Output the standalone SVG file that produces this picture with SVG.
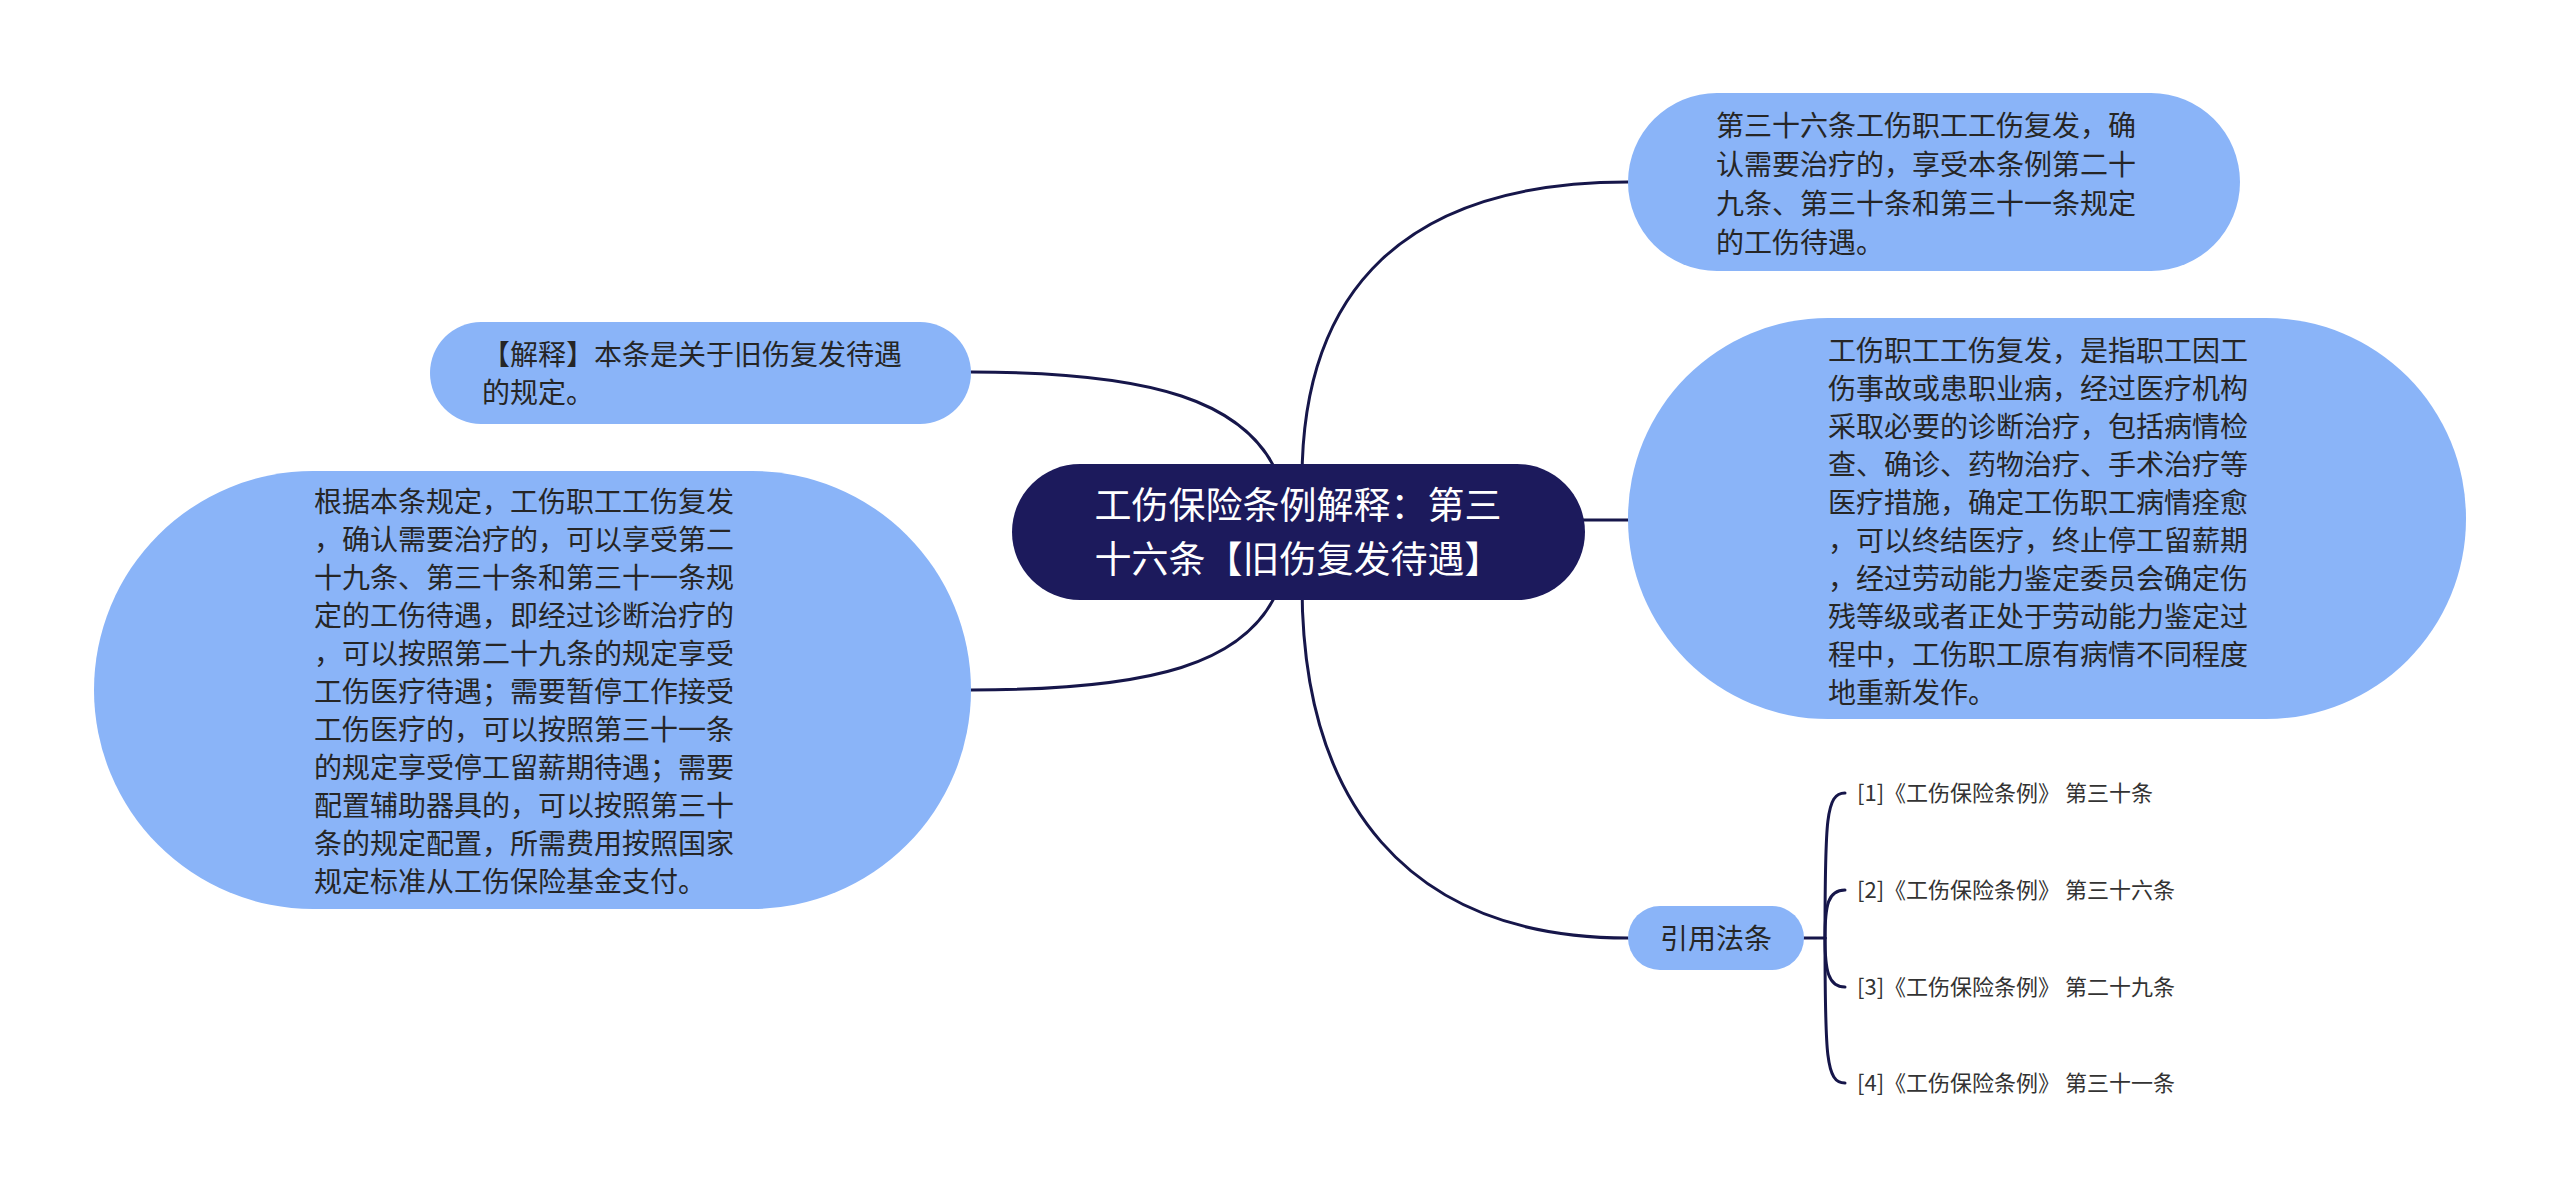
<svg xmlns="http://www.w3.org/2000/svg" width="2560" height="1202" viewBox="0 0 2560 1202">
<style>
.edge{fill:none;stroke:#16164a;stroke-width:3;stroke-linecap:round}
.sub{fill:#8ab4f8}
.root{fill:#1c1a5c}
.t{font-family:"Noto Sans CJK SC","Noto Sans",sans-serif;font-size:28px;fill:#262626}
.rt{font-family:"Noto Sans CJK SC","Noto Sans",sans-serif;font-size:37px;fill:#ffffff}
.ref{font-family:"Noto Sans CJK SC","Noto Sans",sans-serif;font-size:22px;fill:#333333}
</style>
<rect width="2560" height="1202" fill="#ffffff"/>
<g id="connectors">
<path class="edge" d="M1302,480 C1302,290 1405,182 1628,182"/>
<path class="edge" d="M1570,520 L1628,520"/>
<path class="edge" d="M1302,585 C1302,800 1405,938 1628,938"/>
<path class="edge" d="M971,372 C1150,372 1250,400 1280,480"/>
<path class="edge" d="M971,690 C1150,690 1250,665 1280,585"/>
<path class="edge" d="M1804,938 L1825,938"/>
<path class="edge" d="M1825,938 C1825,820 1826,793 1845,793"/>
<path class="edge" d="M1825,938 C1825,905 1828,890 1845,890"/>
<path class="edge" d="M1825,938 C1825,970 1828,987 1845,987"/>
<path class="edge" d="M1825,938 C1825,1056 1826,1083 1845,1083"/>
</g>
<g id="root">
<rect class="root" x="1012" y="464" width="573" height="136" rx="68"/>
<text class="rt" x="1298" y="519" text-anchor="middle">工伤保险条例解释：第三</text>
<text class="rt" x="1298" y="573" text-anchor="middle">十六条【旧伤复发待遇】</text>
</g>
<g id="node-a">
<rect class="sub" x="1628" y="93" width="612" height="178" rx="89"/>
<text class="t" x="1716" y="136">第三十六条工伤职工工伤复发，确</text>
<text class="t" x="1716" y="175">认需要治疗的，享受本条例第二十</text>
<text class="t" x="1716" y="214">九条、第三十条和第三十一条规定</text>
<text class="t" x="1716" y="253">的工伤待遇。</text>
</g>
<g id="node-b">
<rect class="sub" x="1628" y="318" width="838" height="401" rx="200"/>
<text class="t" x="1828" y="361">工伤职工工伤复发，是指职工因工</text>
<text class="t" x="1828" y="399">伤事故或患职业病，经过医疗机构</text>
<text class="t" x="1828" y="437">采取必要的诊断治疗，包括病情检</text>
<text class="t" x="1828" y="475">查、确诊、药物治疗、手术治疗等</text>
<text class="t" x="1828" y="513">医疗措施，确定工伤职工病情痊愈</text>
<text class="t" x="1828" y="551">，可以终结医疗，终止停工留薪期</text>
<text class="t" x="1828" y="589">，经过劳动能力鉴定委员会确定伤</text>
<text class="t" x="1828" y="627">残等级或者正处于劳动能力鉴定过</text>
<text class="t" x="1828" y="665">程中，工伤职工原有病情不同程度</text>
<text class="t" x="1828" y="703">地重新发作。</text>
</g>
<g id="node-c">
<rect class="sub" x="430" y="322" width="541" height="102" rx="51"/>
<text class="t" x="482" y="365">【解释】本条是关于旧伤复发待遇</text>
<text class="t" x="482" y="403">的规定。</text>
</g>
<g id="node-d">
<rect class="sub" x="94" y="471" width="877" height="438" rx="219"/>
<text class="t" x="314" y="512">根据本条规定，工伤职工工伤复发</text>
<text class="t" x="314" y="550">，确认需要治疗的，可以享受第二</text>
<text class="t" x="314" y="588">十九条、第三十条和第三十一条规</text>
<text class="t" x="314" y="626">定的工伤待遇，即经过诊断治疗的</text>
<text class="t" x="314" y="664">，可以按照第二十九条的规定享受</text>
<text class="t" x="314" y="702">工伤医疗待遇；需要暂停工作接受</text>
<text class="t" x="314" y="740">工伤医疗的，可以按照第三十一条</text>
<text class="t" x="314" y="778">的规定享受停工留薪期待遇；需要</text>
<text class="t" x="314" y="816">配置辅助器具的，可以按照第三十</text>
<text class="t" x="314" y="854">条的规定配置，所需费用按照国家</text>
<text class="t" x="314" y="892">规定标准从工伤保险基金支付。</text>
</g>
<g id="node-e">
<rect class="sub" x="1628" y="906" width="176" height="64" rx="32"/>
<text class="t" x="1716" y="949" text-anchor="middle">引用法条</text>
</g>
<g id="ref-1"><text class="ref" x="1857" y="801">[1]《工伤保险条例》 第三十条</text></g>
<g id="ref-2"><text class="ref" x="1857" y="898">[2]《工伤保险条例》 第三十六条</text></g>
<g id="ref-3"><text class="ref" x="1857" y="995">[3]《工伤保险条例》 第二十九条</text></g>
<g id="ref-4"><text class="ref" x="1857" y="1091">[4]《工伤保险条例》 第三十一条</text></g>
</svg>
